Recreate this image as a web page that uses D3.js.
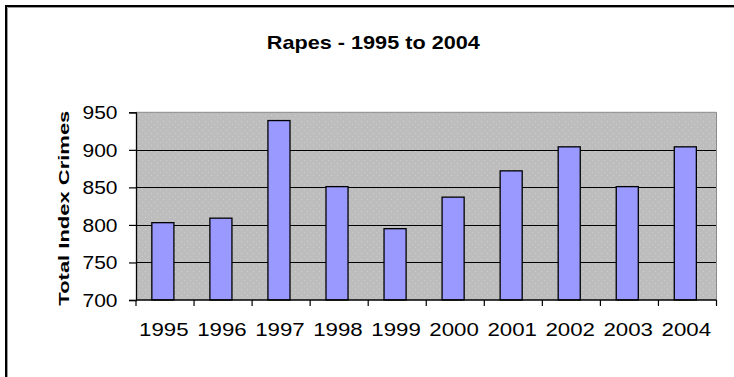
<!DOCTYPE html>
<html>
<head>
<meta charset="utf-8">
<script src="https://cdn.jsdelivr.net/npm/d3@7"></script>
<style>
  html, body { margin: 0; padding: 0; background: #fff; }
  svg { display: block; }
  text { font-family: "Liberation Sans", Arial, sans-serif; fill: #000; }
</style>
</head>
<body>
<svg id="chart" width="734" height="377"></svg>
<script>
// Yearly totals
const years = ["1995", "1996", "1997", "1998", "1999", "2000", "2001", "2002", "2003", "2004"];
const rapes = [803, 809, 939, 851, 795, 837, 872, 904, 851, 904];
const yTicks = [700, 750, 800, 850, 900, 950];
const chartTitle = "Rapes - 1995 to 2004";
const yTitle = "Total Index Crimes";

const svg = d3.select("#chart");

// plot box
const plotL = 136, plotR = 716.5, plotT = 112.3, plotB = 300;

// outer frame (top and left edges)
svg.append("path").attr("d", "M6,377 V6 H734").attr("fill", "none")
  .attr("stroke", "#000").attr("stroke-width", 2);
svg.append("path").attr("d", "M7.5,377 V7.5 H734").attr("fill", "none")
  .attr("stroke", "#9a9a9a").attr("stroke-width", 1);

// speckled fill of the plot area
const defs = svg.append("defs");
const pat = defs.append("pattern").attr("id", "speckle")
  .attr("patternUnits", "userSpaceOnUse").attr("width", 6).attr("height", 6);
pat.append("rect").attr("width", 6).attr("height", 6).attr("fill", "#bdbdbd");
pat.append("rect").attr("x", 1).attr("y", 1).attr("width", 1).attr("height", 1).attr("fill", "#cfcfcf");
pat.append("rect").attr("x", 4).attr("y", 4).attr("width", 1).attr("height", 1).attr("fill", "#cacaca");

const x = d3.scaleBand().domain(years).range([plotL, plotR])
  .paddingInner(0.62).paddingOuter(0.31).align(0.44);
const y = d3.scaleLinear().domain([700, 950]).range([plotB, plotT]);

svg.append("rect").attr("x", plotL).attr("y", plotT)
  .attr("width", plotR - plotL).attr("height", plotB - plotT)
  .attr("fill", "url(#speckle)");

// gridlines
svg.append("g").selectAll("line").data(yTicks.filter(v => v > 700 && v < 950)).join("line")
  .attr("x1", plotL).attr("x2", plotR)
  .attr("y1", d => Math.round(y(d)) + 0.5).attr("y2", d => Math.round(y(d)) + 0.5)
  .attr("stroke", "#000").attr("stroke-width", 1.2);

// plot border top/right
svg.append("path")
  .attr("d", `M${plotL},${plotT} H${plotR} V${plotB}`)
  .attr("fill", "none").attr("stroke", "#8a8a8a").attr("stroke-width", 1);

// bars
svg.append("g").selectAll("rect").data(years).join("rect")
  .attr("x", d => x(d))
  .attr("y", (d, i) => y(rapes[i]))
  .attr("width", x.bandwidth())
  .attr("height", (d, i) => y(700) - y(rapes[i]))
  .attr("fill", "#9999ff")
  .attr("stroke", "#000").attr("stroke-width", 1.3);

// y axis
const yAxis = d3.axisLeft(y).tickValues(yTicks).tickSize(7).tickPadding(12).tickFormat(d3.format("d"));
const gy = svg.append("g").attr("transform", `translate(${plotL},0)`).call(yAxis);
gy.select(".domain").attr("stroke", "#000").attr("stroke-width", 1.3);
gy.selectAll(".tick line").attr("stroke", "#000").attr("stroke-width", 1.2);
gy.selectAll(".tick text")
  .attr("font-size", 17.5).attr("font-family", "Liberation Sans, Arial, sans-serif")
  .attr("x", -18.5).attr("dy", "0.36em")
  .attr("textLength", 35).attr("lengthAdjust", "spacingAndGlyphs");

// x axis: ticks on category boundaries
const bounds = d3.range(years.length + 1).map(i => x.range()[0] + i * x.step());
svg.append("line").attr("x1", plotL).attr("x2", plotR)
  .attr("y1", plotB).attr("y2", plotB).attr("stroke", "#000").attr("stroke-width", 1.3);
svg.append("g").selectAll("line").data(bounds).join("line")
  .attr("x1", d => d).attr("x2", d => d).attr("y1", plotB).attr("y2", plotB + 6)
  .attr("stroke", "#000").attr("stroke-width", 1.2);
svg.append("g").selectAll("text").data(years).join("text")
  .attr("x", d => x(d) + x.bandwidth() / 2 + 1)
  .attr("y", 336)
  .attr("text-anchor", "middle")
  .attr("font-size", 17.5)
  .attr("textLength", 49.5).attr("lengthAdjust", "spacingAndGlyphs")
  .text(d => d);

// title
svg.append("text").attr("x", 373.3).attr("y", 48.5)
  .attr("text-anchor", "middle").attr("font-size", 18.5).attr("font-weight", "bold")
  .attr("textLength", 213).attr("lengthAdjust", "spacingAndGlyphs")
  .text(chartTitle);

// y axis title
svg.append("text")
  .attr("transform", `translate(69,${(plotT + plotB) / 2 + 2}) rotate(-90)`)
  .attr("text-anchor", "middle").attr("font-size", 15.5).attr("font-weight", "bold")
  .attr("textLength", 195).attr("lengthAdjust", "spacingAndGlyphs")
  .text(yTitle);
</script>
</body>
</html>
